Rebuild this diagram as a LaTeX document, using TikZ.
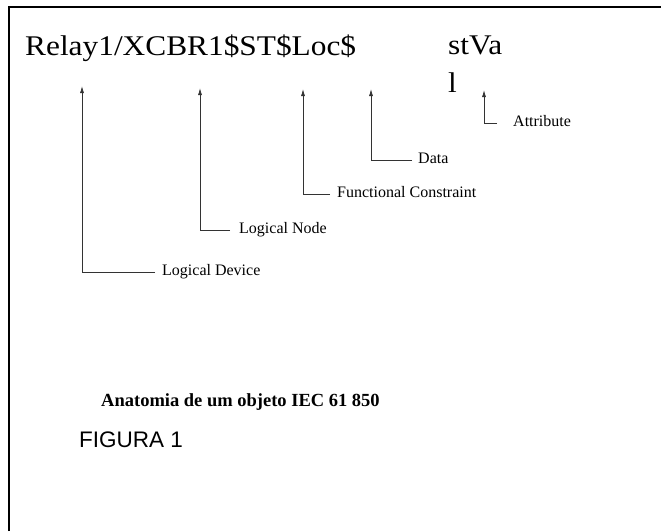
\documentclass[tikz,border=0pt]{standalone}
\usepackage{fontspec}
\setmainfont{Liberation Serif}
\newfontfamily\arialfont{Liberation Sans}
\usetikzlibrary{arrows.meta}
\tikzset{
  big/.style={anchor=base west, inner sep=0pt, font=\fontsize{28.5}{30}\selectfont},
  lbl/.style={anchor=west, inner ysep=0pt, text height=7pt, text depth=0pt, font=\fontsize{16}{17}\selectfont},
  arr/.style={draw=black!80, line width=0.8pt, -{Latex[length=7pt,width=4pt]}},
  frame/.style={line width=1.6pt}
}
\begin{document}
\begin{tikzpicture}[x=1pt,y=-1pt]
\useasboundingbox (0,0) rectangle (661,531);
% frame (top and left edges only visible)
\draw[frame] (9,531) -- (9,7) -- (661,7);
% main object name
\node[big] (obj) at (25,55) {\scalebox{1.1}[1]{Relay1/XCBR1\$ST\$Loc\$}};
\node[big] (stva) at (448,54) {\scalebox{1.1}[1]{stVa}};
\node[big] (stl) at (448,92) {\scalebox{1.1}[1]{l}};
% arrow tips
\coordinate (t1) at (82,86);
\coordinate (t2) at (200,88);
\coordinate (t3) at (303,89);
\coordinate (t4) at (371,89);
\coordinate (t5) at (484,90);
% labels
\node[lbl, inner xsep=7pt] (ld) at (155,272) {Logical Device};
\node[lbl, inner xsep=9pt] (ln) at (230,230) {Logical Node};
\node[lbl, inner xsep=7pt] (fc) at (330,194) {Functional Constraint};
\node[lbl, inner xsep=6pt] (da) at (412,160) {Data};
\node[lbl, inner xsep=16pt] (at) at (497,123) {Attribute};
% connectors
\draw[arr] (ld.west) -| (t1);
\draw[arr] (ln.west) -| (t2);
\draw[arr] (fc.west) -| (t3);
\draw[arr] (da.west) -| (t4);
\draw[arr] (at.west) -| (t5);
% caption
\node[anchor=base west, inner sep=0pt, font=\fontsize{18.5}{20}\selectfont\bfseries] (cap) at (101,406) {Anatomia de um objeto IEC 61 850};
\node[anchor=base west, inner sep=0pt, font=\fontsize{22.5}{24}\selectfont\arialfont] (fig) at (79,447) {FIGURA 1};
\end{tikzpicture}
\end{document}
